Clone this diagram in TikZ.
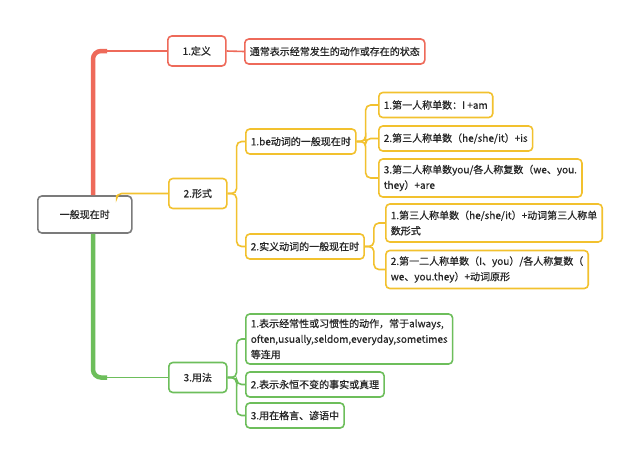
\documentclass[tikz,border=0pt]{standalone}
\usepackage{fontspec}
\setmainfont{Noto Sans CJK SC}[FakeBold=0.6]
\usetikzlibrary{calc}
\definecolor{mred}{HTML}{EE6A5A}
\definecolor{myel}{HTML}{F2C12E}
\definecolor{mgrn}{HTML}{6DBE5B}
\definecolor{mgry}{HTML}{7B7B7B}

\begin{document}
\begin{tikzpicture}[
  x=1pt, y=-1pt,
  base/.style={draw, line width=1.6pt, rounded corners=4pt, fill=white, anchor=west,
               font=\fontsize{10}{15.5}\selectfont, text=black!85, inner xsep=5pt, inner ysep=0pt},
  hub/.style={base, draw=mgry, minimum width=94pt, minimum height=37pt, align=center},
  topic/.style={base, minimum width=58pt, minimum height=30pt, align=center},
  leaf/.style={base, minimum height=25pt, align=left},
  link/.style={line width=1.6pt, rounded corners=5pt},
  trunk/.style={line width=4.5pt, rounded corners=8pt}
]
\path[fill=white, use as bounding box] (0,0) rectangle (640,464);

\node[hub] (root) at (37,214.5) {一般现在时};
\coordinate (tx) at (93,0);

% 1. definition
\node[topic, draw=mred] (def)  at (167,51) {1.定义};
\node[leaf,  draw=mred] (defl) at (244,51.5) {通常表示经常发生的动作或存在的状态};

% 2. form
\node[topic, draw=myel] (xingshi) at (168,193.5) {2.形式};
\node[leaf,  draw=myel] (be)      at (245,141.5) {1.be动词的一般现在时};
\node[leaf,  draw=myel] (shiyi)   at (245,246.5) {2.实义动词的一般现在时};
\node[leaf,  draw=myel] (b1) at (378,105)   {1.第一人称单数：I +am};
\node[leaf,  draw=myel] (b2) at (378,138.5) {2.第三人称单数（he/she/it）+is};
\node[leaf,  draw=myel, minimum height=38pt] (b3) at (378,178)
  {3.第二人称单数you/各人称复数（we、you.\\they）+are};
\node[leaf,  draw=myel, minimum height=38pt] (s1) at (385,223)
  {1.第三人称单数（he/she/it）+动词第三人称单\\数形式};
\node[leaf,  draw=myel, minimum height=38pt] (s2) at (385,269.5)
  {2.第一二人称单数（I、you）/各人称复数（\\we、you.they）+动词原形};

% 3. usage
\node[topic, draw=mgrn] (yongfa) at (168,377.5) {3.用法};
\node[leaf,  draw=mgrn, minimum height=50pt] (u1) at (245,339)
  {1.表示经常性或习惯性的动作，常于always,\\often,usually,seldom,everyday,sometimes\\等连用};
\node[leaf,  draw=mgrn] (u2) at (245,384.5) {2.表示永恒不变的事实或真理};
\node[leaf,  draw=mgrn] (u3) at (245,415.5) {3.用在格言、谚语中};

% trunks
\draw[trunk, mred] (root.north -| tx) |- ($(tx |- def.west)+(14,0)$);
\draw[link, mred] ($(tx |- def.west)+(10,0)$) -- (def.west);
\draw[trunk, mgrn] (root.south -| tx) |- ($(tx |- yongfa.west)+(14,0)$);
\draw[link, mgrn] ($(tx |- yongfa.west)+(10,0)$) -- (yongfa.west);
\draw[link, myel] ($(root.north east)+(-16,0)$) |- (xingshi.west);

% branches
\draw[link, mred] (def.east) -- (defl.west);
\foreach \c in {be,shiyi}
  \draw[link, myel] (xingshi.east) -- ++(9,0) |- (\c.west);
\foreach \c in {b1,b2,b3}
  \draw[link, myel] (be.east) -- ++(9,0) |- (\c.west);
\foreach \c in {s1,s2}
  \draw[link, myel] (shiyi.east) -- ++(9,0) |- (\c.west);
\foreach \c in {u1,u2,u3}
  \draw[link, mgrn] (yongfa.east) -- ++(9,0) |- (\c.west);

\end{tikzpicture}
\end{document}
